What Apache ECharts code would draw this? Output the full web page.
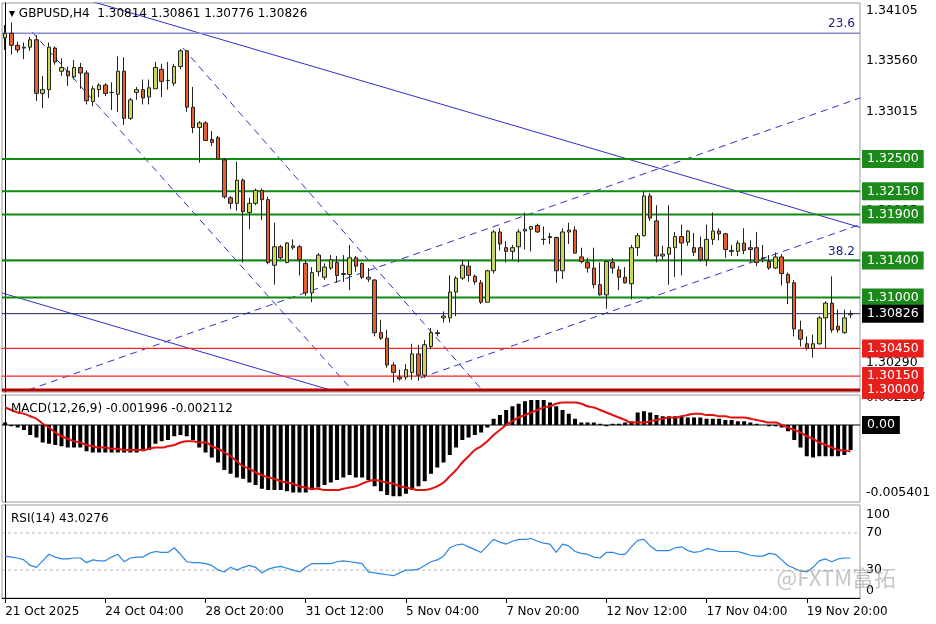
<!DOCTYPE html>
<html>
<head>
<meta charset="utf-8">
<script src="https://cdn.jsdelivr.net/npm/echarts@6/dist/echarts.min.js"></script>
<style>
  html, body { margin: 0; padding: 0; background: #fff; }
  #chart { width: 936px; height: 624px; }
</style>
</head>
<body>
<div id="chart"></div>
<script>
// H4 candles: [open, close, low, high]
var candles = [
  [1.3381,1.3386,1.3368,1.3395],[1.3386,1.3373,1.3363,1.3398],[1.3373,1.3368,1.3365,1.3377],[1.3370,1.3371,1.3358,1.3376],
  [1.3371,1.3379,1.3367,1.3382],[1.3379,1.3321,1.3313,1.3384],[1.3321,1.3325,1.3305,1.3340],[1.3325,1.3371,1.3316,1.3376],
  [1.3370,1.3355,1.3352,1.3372],[1.3345,1.3349,1.3340,1.3359],[1.3345,1.3340,1.3329,1.3350],[1.3339,1.3349,1.3336,1.3357],
  [1.3349,1.3343,1.3326,1.3354],[1.3343,1.3313,1.3309,1.3346],[1.3312,1.3326,1.3307,1.3329],[1.3325,1.3330,1.3317,1.3332],
  [1.3330,1.3321,1.3318,1.3332],[1.3322,1.3322,1.3303,1.3333],[1.3320,1.3345,1.3301,1.3361],[1.3345,1.3294,1.3287,1.3360],
  [1.3294,1.3314,1.3292,1.3316],[1.3322,1.3325,1.3314,1.3328],[1.3325,1.3316,1.3309,1.3336],[1.3317,1.3327,1.3309,1.3336],
  [1.3326,1.3349,1.3326,1.3355],[1.3347,1.3334,1.3317,1.3353],[1.3335,1.3335,1.3325,1.3355],[1.3332,1.3350,1.3329,1.3353],
  [1.3350,1.3367,1.3347,1.3369],[1.3367,1.3306,1.3301,1.3368],[1.3306,1.3284,1.3278,1.3328],[1.3284,1.3289,1.3246,1.3291],
  [1.3289,1.3270,1.3270,1.3291],[1.3271,1.3268,1.3264,1.3280],[1.3273,1.3250,1.3249,1.3275],[1.3249,1.3209,1.3207,1.3251],
  [1.3208,1.3202,1.3196,1.3210],[1.3202,1.3227,1.3194,1.3247],[1.3227,1.3193,1.3138,1.3229],[1.3192,1.3202,1.3174,1.3208],
  [1.3202,1.3216,1.3200,1.3218],[1.3216,1.3206,1.3184,1.3218],[1.3206,1.3138,1.3136,1.3209],[1.3135,1.3155,1.3114,1.3181],
  [1.3155,1.3143,1.3141,1.3157],[1.3138,1.3159,1.3137,1.3160],[1.3154,1.3156,1.3152,1.3163],[1.3155,1.3141,1.3124,1.3157],
  [1.3137,1.3105,1.3102,1.3140],[1.3105,1.3127,1.3095,1.3133],[1.3128,1.3146,1.3123,1.3148],[1.3122,1.3133,1.3119,1.3137],
  [1.3132,1.3141,1.3130,1.3146],[1.3138,1.3124,1.3116,1.3145],[1.3125,1.3126,1.3117,1.3146],[1.3125,1.3143,1.3108,1.3157],
  [1.3143,1.3134,1.3128,1.3145],[1.3137,1.3122,1.3120,1.3138],[1.3120,1.3122,1.3117,1.3132],[1.3119,1.3062,1.3058,1.3120],
  [1.3062,1.3056,1.3054,1.3076],[1.3056,1.3027,1.3024,1.3065],[1.3027,1.3019,1.3008,1.3030],[1.3014,1.3012,1.3010,1.3022],
  [1.3014,1.3022,1.3011,1.3028],[1.3019,1.3039,1.3011,1.3050],[1.3039,1.3016,1.3010,1.3049],[1.3016,1.3049,1.3013,1.3054],
  [1.3047,1.3062,1.3044,1.3067],[1.3061,1.3062,1.3058,1.3065],[1.3078,1.3080,1.3073,1.3085],[1.3078,1.3106,1.3073,1.3124],
  [1.3106,1.3121,1.3080,1.3123],[1.3121,1.3135,1.3119,1.3141],[1.3134,1.3124,1.3117,1.3140],[1.3123,1.3117,1.3114,1.3125],
  [1.3116,1.3095,1.3093,1.3119],[1.3095,1.3129,1.3095,1.3130],[1.3129,1.3171,1.3126,1.3173],[1.3171,1.3158,1.3151,1.3175],
  [1.3154,1.3150,1.3138,1.3161],[1.3150,1.3154,1.3141,1.3157],[1.3155,1.3171,1.3138,1.3174],[1.3172,1.3174,1.3152,1.3192],
  [1.3174,1.3177,1.3150,1.3177],[1.3178,1.3171,1.3170,1.3180],[1.3163,1.3163,1.3157,1.3177],[1.3166,1.3165,1.3158,1.3170],
  [1.3165,1.3129,1.3116,1.3166],[1.3129,1.3171,1.3120,1.3175],[1.3171,1.3173,1.3158,1.3181],[1.3173,1.3148,1.3148,1.3177],
  [1.3144,1.3139,1.3137,1.3154],[1.3138,1.3132,1.3127,1.3143],[1.3132,1.3114,1.3110,1.3154],[1.3114,1.3103,1.3102,1.3138],
  [1.3103,1.3139,1.3088,1.3139],[1.3138,1.3132,1.3126,1.3143],[1.3130,1.3122,1.3108,1.3134],[1.3122,1.3116,1.3115,1.3133],
  [1.3115,1.3154,1.3098,1.3157],[1.3154,1.3167,1.3145,1.3170],[1.3167,1.3210,1.3166,1.3215],[1.3210,1.3186,1.3183,1.3213],
  [1.3183,1.3145,1.3138,1.3200],[1.3145,1.3147,1.3141,1.3156],[1.3147,1.3154,1.3114,1.3200],[1.3154,1.3166,1.3122,1.3171],
  [1.3166,1.3159,1.3124,1.3179],[1.3160,1.3172,1.3156,1.3173],[1.3154,1.3149,1.3145,1.3170],[1.3154,1.3141,1.3139,1.3166],
  [1.3141,1.3163,1.3134,1.3179],[1.3163,1.3172,1.3157,1.3192],[1.3172,1.3169,1.3162,1.3175],[1.3169,1.3152,1.3143,1.3170],
  [1.3150,1.3151,1.3145,1.3157],[1.3150,1.3159,1.3145,1.3162],[1.3159,1.3151,1.3147,1.3175],[1.3154,1.3152,1.3138,1.3162],
  [1.3154,1.3138,1.3134,1.3171],[1.3142,1.3143,1.3138,1.3157],[1.3139,1.3132,1.3130,1.3146],[1.3132,1.3144,1.3131,1.3149],
  [1.3144,1.3126,1.3113,1.3147],[1.3125,1.3116,1.3093,1.3127],[1.3116,1.3066,1.3058,1.3119],[1.3065,1.3055,1.3047,1.3075],
  [1.3050,1.3045,1.3043,1.3058],[1.3045,1.3050,1.3035,1.3060],[1.3050,1.3078,1.3049,1.3080],[1.3078,1.3094,1.3045,1.3096],
  [1.3094,1.3065,1.3062,1.3123],[1.3069,1.3065,1.3062,1.3087],[1.3062,1.3078,1.3061,1.3087],[1.30814,1.30826,1.30776,1.30861]
];

// MACD(12,26,9), values in thousandths
var macdMain = [
  0.2,-0.1,-0.2,-0.4,-0.8,-1.0,-1.4,-1.5,-1.6,-1.7,
  -1.8,-1.8,-1.8,-2.1,-2.2,-2.2,-2.2,-2.2,-2.2,-2.2,
  -2.2,-2.2,-2.1,-2.0,-1.5,-1.3,-1.2,-0.9,-0.8,-0.9,
  -1.2,-1.8,-2.2,-2.6,-3.0,-3.6,-3.9,-4.2,-4.3,-4.6,
  -4.8,-5.1,-5.2,-5.2,-5.2,-5.3,-5.4,-5.4,-5.4,-5.2,
  -5.0,-4.8,-4.6,-4.4,-4.2,-4.0,-4.2,-4.2,-4.4,-4.9,
  -5.3,-5.6,-5.7,-5.7,-5.5,-5.2,-4.9,-4.5,-3.9,-3.4,
  -3.0,-2.4,-1.8,-1.2,-1.0,-0.8,-0.6,-0.2,0.5,0.8,
  1.2,1.5,1.7,1.9,2.0,2.0,2.0,1.8,1.5,1.2,
  0.9,0.5,0.2,0.2,0.2,0.1,-0.1,0.1,0.1,0.2,
  0.3,1.0,1.1,1.0,0.8,0.7,0.7,0.7,0.7,0.6,
  0.6,0.6,0.5,0.5,0.5,0.4,0.4,0.3,0.3,0.2,
  0.1,0,-0.1,-0.1,-0.2,-0.5,-1.2,-1.8,-2.5,-2.6,
  -2.5,-2.5,-2.5,-2.5,-2.4,-2.0
];
var macdSignal = [
  1.4,1.2,1.0,0.9,0.7,0.5,0.1,-0.2,-0.6,-0.9,
  -1.1,-1.3,-1.4,-1.6,-1.7,-1.8,-1.8,-1.9,-1.9,-2.0,
  -2.0,-2.0,-2.0,-1.9,-1.8,-1.8,-1.7,-1.6,-1.4,-1.3,
  -1.3,-1.4,-1.4,-1.7,-1.9,-2.2,-2.5,-2.9,-3.3,-3.5,
  -3.8,-4.0,-4.2,-4.3,-4.5,-4.6,-4.7,-4.9,-5.0,-5.1,
  -5.1,-5.2,-5.2,-5.2,-5.1,-5.0,-4.9,-4.7,-4.5,-4.4,
  -4.5,-4.6,-4.7,-4.9,-5.0,-5.1,-5.2,-5.2,-5.1,-4.9,
  -4.6,-4.1,-3.6,-3.0,-2.5,-2.0,-1.7,-1.3,-0.8,-0.4,
  0,0.3,0.6,0.8,1.0,1.2,1.4,1.5,1.7,1.8,
  1.8,1.8,1.7,1.5,1.4,1.2,1.0,0.8,0.6,0.4,
  0.2,0.2,0.2,0.3,0.4,0.5,0.6,0.6,0.7,0.8,
  0.9,0.9,0.8,0.8,0.7,0.7,0.6,0.6,0.6,0.5,
  0.4,0.3,0.2,0.2,0,-0.2,-0.4,-0.6,-0.9,-1.1,
  -1.4,-1.6,-1.8,-2.0,-2.05,-2.112
];

// RSI(14)
var rsi = [
  45,44,43,41,35,33,40,47,44,42,
  42,43,43,38,41,40,40,44,47,39,
  43,44,44,48,50,49,49,54,47,39,
  38,38,37,35,30,28,33,30,33,35,
  33,27,31,33,34,32,30,28,33,37,
  37,37,37,39,40,39,38,37,28,27,
  26,25,24,27,30,30,31,35,39,41,
  45,54,57,58,55,52,49,56,63,60,
  58,61,63,63,64,61,59,58,49,58,
  56,50,48,47,44,43,49,49,47,47,
  55,62,63,56,51,51,51,54,55,51,
  49,50,53,52,50,50,50,50,48,46,
  45,45,48,47,41,35,32,29,28,33,
  40,42,39,42,43,43.03
];

var timeLabels = ['21 Oct 2025','24 Oct 04:00','28 Oct 20:00','31 Oct 12:00','5 Nov 04:00',
                  '7 Nov 20:00','12 Nov 12:00','17 Nov 04:00','19 Nov 20:00'];
var labelStep = 16;

// horizontal levels
var greenLevels = [1.3250, 1.3215, 1.3190, 1.3140, 1.3100];
var redLevels = [1.3045, 1.3015];
var level30000 = 1.3000;
var lastPrice = 1.30826;
var fib236 = 1.3386;
var fib382 = 1.3140;
var priceTicks = [1.34105, 1.33560, 1.33015, 1.31935, 1.30290];

// trend lines: [[index, price], [index, price]]
var solidLines = [
  [[13.1, 1.3422], [136.5, 1.3176]],
  [[-0.5, 1.3105], [51.9, 1.3000]]
];
var dashedLines = [
  [[3.7, 1.3000], [136.5, 1.3316]],
  [[66.3, 1.3013], [136.5, 1.3179]],
  [[4.3, 1.33875], [55.1, 1.30022]],
  [[28.4, 1.3370], [75.9, 1.3002]]
];

var nCats = candles.length + 1;
var xMin = -0.5, xMax = nCats - 0.5;
var cats = [];
for (var i = 0; i < nCats; i++) {
  cats.push(i % labelStep === 0 && timeLabels[i / labelStep] ? timeLabels[i / labelStep] : '');
}
var hist = macdMain.map(function (v) { return v / 1000; });
var signal = macdSignal.map(function (v) { return v / 1000; });

var FONT = 'DejaVu Sans';
var series = [];

// horizontal level drawn as a 2-point line across the pane, with optional right-side label
function level(xi, yi, v, line, text, bg, z) {
  var s = { type: 'line', xAxisIndex: xi, yAxisIndex: yi, data: [[xMin, v], [xMax, v]], symbol: 'none',
    silent: true, z: z || 2, lineStyle: line || { width: 0, opacity: 0 } };
  if (text) {
    s.endLabel = { show: true, formatter: text, distance: bg ? 2 : 6, color: bg ? '#fff' : '#000',
      backgroundColor: bg || 'transparent', padding: bg ? [3, 5, 2, 5] : 0,
      fontFamily: FONT, fontSize: 12.5, opacity: 1 };
  }
  series.push(s);
}
function tag(xi, yi, v, text, color) {
  series.push({ type: 'line', xAxisIndex: xi, yAxisIndex: yi, data: [[xMin, v], [xMax - 0.3, v]], symbol: 'none',
    silent: true, z: 2, lineStyle: { width: 0, opacity: 0 },
    endLabel: { show: true, formatter: text, distance: -30, offset: [0, -9], color: color,
      fontFamily: FONT, fontSize: 12 } });
}

solidLines.forEach(function (l) {
  series.push({ type: 'line', xAxisIndex: 3, yAxisIndex: 0, data: l, symbol: 'none', silent: true,
    lineStyle: { color: '#3030c8', width: 1 }, z: 1 });
});
dashedLines.forEach(function (l) {
  series.push({ type: 'line', xAxisIndex: 3, yAxisIndex: 0, data: l, symbol: 'none', silent: true,
    lineStyle: { color: '#3030c8', width: 1, type: [7, 5] }, z: 1 });
});

priceTicks.forEach(function (p) { level(3, 0, p, null, p.toFixed(5)); });
level(3, 0, fib236, { color: '#8a8ad0', width: 1.5 });
tag(3, 0, fib236, '23.6', '#202080');
level(3, 0, fib382 + 0.00004, { color: '#101050', width: 1 });
tag(3, 0, fib382, '38.2', '#202080');
greenLevels.forEach(function (p) {
  level(3, 0, p, { color: '#118a11', width: 2 }, p.toFixed(5), '#1b8a1b');
});
level(3, 0, lastPrice, { color: '#202070', width: 1 }, lastPrice.toFixed(5), '#000');
redLevels.forEach(function (p) {
  level(3, 0, p, { color: '#ff2020', width: 1.2 }, p.toFixed(5), '#e8201c', 3);
});
level(3, 0, level30000, { color: '#b00000', width: 3 }, level30000.toFixed(5), '#e8201c', 3);

series.push({ type: 'candlestick', xAxisIndex: 0, yAxisIndex: 0, data: candles, barWidth: 4, z: 3,
  itemStyle: { color: '#c8d65a', color0: '#e2602c', borderColor: '#222', borderColor0: '#222', borderWidth: 1 } });

level(4, 1, 0.00215, null, '0.002137');
level(4, 1, -0.0054, null, '-0.005401');
series.push({ type: 'bar', xAxisIndex: 1, yAxisIndex: 1, data: hist, barWidth: 4, itemStyle: { color: '#000' }, z: 2 });
level(4, 1, 0, { color: '#000', width: 1 }, '0.00', '#000', 3);
series.push({ type: 'line', xAxisIndex: 1, yAxisIndex: 1, data: signal, symbol: 'none', smooth: true, z: 4,
  lineStyle: { color: '#e41010', width: 2 } });

level(5, 2, 70, { color: '#b8b8b8', width: 1, type: [3, 3] }, '70');
level(5, 2, 30, { color: '#b8b8b8', width: 1, type: [3, 3] }, '30');
level(5, 2, 90, null, '100');
level(5, 2, 8, null, '0');
series.push({ type: 'line', xAxisIndex: 2, yAxisIndex: 2, data: rsi, symbol: 'none', z: 3,
  lineStyle: { color: '#2a86e0', width: 1.2 } });

var myChart = echarts.init(document.getElementById('chart'));
var option = {
  animation: false,
  backgroundColor: '#fff',
  textStyle: { fontFamily: FONT },
  title: [
    { text: '▾ GBPUSD,H4  1.30814 1.30861 1.30776 1.30826', left: 4, top: 3,
      textStyle: { fontFamily: FONT, fontSize: 12, fontWeight: 'normal', color: '#000' } },
    { text: 'MACD(12,26,9) -0.001996 -0.002112', left: 6, top: 398,
      textStyle: { fontFamily: FONT, fontSize: 12, fontWeight: 'normal', color: '#000' } },
    { text: 'RSI(14) 43.0276', left: 6, top: 508,
      textStyle: { fontFamily: FONT, fontSize: 12, fontWeight: 'normal', color: '#000' } }
  ],
  graphic: [
    { type: 'text', right: 40, top: 567, z: 100,
      style: { text: '@FXTM富拓', font: '22px "Noto Sans CJK SC"', fill: 'rgba(150,150,150,0.55)' } }
  ],
  grid: [
    { left: 2, right: 76, top: 3, height: 389, show: true, borderColor: '#9a9a9a', borderWidth: 1 },
    { left: 2, right: 76, top: 395, height: 107, show: true, borderColor: '#9a9a9a', borderWidth: 1 },
    { left: 2, right: 76, top: 505, height: 93, show: true, borderColor: '#9a9a9a', borderWidth: 1 }
  ],
  xAxis: [
    { type: 'category', gridIndex: 0, data: cats, boundaryGap: true, axisLine: { show: false },
      axisTick: { show: false }, axisLabel: { show: false } },
    { type: 'category', gridIndex: 1, data: cats, boundaryGap: true, axisLine: { show: false },
      axisTick: { show: false }, axisLabel: { show: false } },
    { type: 'category', gridIndex: 2, data: cats, boundaryGap: true,
      axisLine: { show: true, lineStyle: { color: '#000' } },
      axisTick: { show: true, alignWithLabel: true, length: 5, lineStyle: { color: '#000' },
        interval: function (i) { return i % labelStep === 0; } },
      axisLabel: { show: true, interval: 0, align: 'left', margin: 8, color: '#000',
        fontFamily: FONT, fontSize: 12 } },
    { type: 'value', gridIndex: 0, min: xMin, max: xMax, show: false },
    { type: 'value', gridIndex: 1, min: xMin, max: xMax, show: false },
    { type: 'value', gridIndex: 2, min: xMin, max: xMax, show: false }
  ],
  yAxis: [
    { type: 'value', gridIndex: 0, min: 1.29978, max: 1.34188, position: 'right',
      axisLine: { show: true, lineStyle: { color: '#000' } }, axisTick: { show: false },
      axisLabel: { show: false }, splitLine: { show: false } },
    { type: 'value', gridIndex: 1, min: -0.00616, max: 0.0024, position: 'right',
      axisLine: { show: true, lineStyle: { color: '#000' } }, axisTick: { show: false },
      axisLabel: { show: false }, splitLine: { show: false } },
    { type: 'value', gridIndex: 2, min: 0, max: 100, position: 'right',
      axisLine: { show: true, lineStyle: { color: '#000' } }, axisTick: { show: false },
      axisLabel: { show: false }, splitLine: { show: false } }
  ],
  series: series
};
myChart.setOption(option);
</script>
</body>
</html>
